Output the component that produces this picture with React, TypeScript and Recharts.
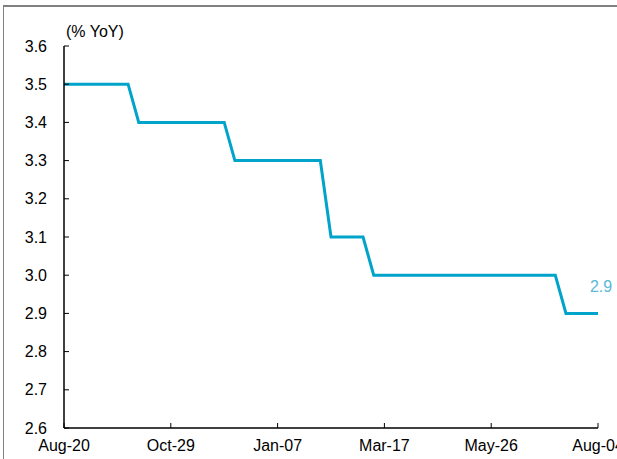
import React from "react";
import { LineChart, Line, XAxis, YAxis } from "recharts";

const dates = [
  "Aug-20", "Aug-27", "Sep-03", "Sep-10", "Sep-17", "Sep-24", "Oct-01", "Oct-08", "Oct-15", "Oct-22",
  "Oct-29", "Nov-05", "Nov-12", "Nov-19", "Nov-26", "Dec-03", "Dec-10", "Dec-17", "Dec-24", "Dec-31",
  "Jan-07", "Jan-14", "Jan-21", "Jan-28", "Feb-04", "Feb-11", "Feb-18", "Feb-25", "Mar-03", "Mar-10",
  "Mar-17", "Mar-24", "Mar-31", "Apr-07", "Apr-14", "Apr-21", "Apr-28", "May-05", "May-12", "May-19",
  "May-26", "Jun-02", "Jun-09", "Jun-16", "Jun-23", "Jun-30", "Jul-07", "Jul-14", "Jul-21", "Jul-28",
  "Aug-04",
];

const values = [
  3.5, 3.5, 3.5, 3.5, 3.5, 3.5, 3.5, 3.4, 3.4, 3.4,
  3.4, 3.4, 3.4, 3.4, 3.4, 3.4, 3.3, 3.3, 3.3, 3.3,
  3.3, 3.3, 3.3, 3.3, 3.3, 3.1, 3.1, 3.1, 3.1, 3.0,
  3.0, 3.0, 3.0, 3.0, 3.0, 3.0, 3.0, 3.0, 3.0, 3.0,
  3.0, 3.0, 3.0, 3.0, 3.0, 3.0, 3.0, 2.9, 2.9, 2.9,
  2.9,
];

const xTicks = ["Aug-20", "Oct-29", "Jan-07", "Mar-17", "May-26", "Aug-04"];
const yTicks = [2.6, 2.7, 2.8, 2.9, 3.0, 3.1, 3.2, 3.3, 3.4, 3.5, 3.6];
const unitLabel = "(% YoY)";

const data = dates.map((d, i) => ({ date: d, value: values[i] }));

const FONT = "'Liberation Sans', Arial, sans-serif";

const EndLabel = (props: any) => {
  const { x, y, index, value } = props;
  if (index !== values.length - 1) return null;
  return (
    <text x={x + 3} y={y - 21} fill="#5cb8d8" fontSize={16} fontFamily={FONT} textAnchor="middle">
      {Number(value).toFixed(1)}
    </text>
  );
};

export default function App() {
  return (
    <div style={{ position: "fixed", left: 0, top: 0, width: 617, height: 459, overflow: "hidden", background: "#fff" }}>
      <div
        style={{
          position: "absolute",
          left: 3,
          top: 5,
          width: 700,
          height: 460,
          borderTop: "2px solid #808080",
          borderLeft: "1px solid #808080",
          boxSizing: "border-box",
        }}
      />
      <div style={{ position: "absolute", left: 0, top: 0 }}>
        <LineChart width={660} height={459} data={data} margin={{ top: 46, right: 62, bottom: 0, left: 0 }}>
          <XAxis
            dataKey="date"
            ticks={xTicks}
            interval={0}
            tickSize={-5}
            tickMargin={17}
            height={31}
            axisLine={{ stroke: "#000", strokeWidth: 1.5 }}
            tickLine={{ stroke: "#000" }}
            tick={{ fill: "#000", fontSize: 16, fontFamily: FONT }}
            padding={{ left: 0, right: 0 }}
          />
          <YAxis
            domain={[2.6, 3.6]}
            ticks={yTicks}
            interval={0}
            width={64}
            tickSize={-5}
            tickMargin={22}
            axisLine={{ stroke: "#000", strokeWidth: 1.5 }}
            tickLine={{ stroke: "#000" }}
            tick={{ fill: "#000", fontSize: 16, fontFamily: FONT }}
            tickFormatter={(v: number) => v.toFixed(1)}
          />
          <Line
            type="linear"
            dataKey="value"
            stroke="#00a3c9"
            strokeWidth={3}
            dot={false}
            isAnimationActive={false}
            label={<EndLabel />}
          />
          <text x={66} y={37} fontSize={16} fontFamily={FONT} fill="#000">
            {unitLabel}
          </text>
        </LineChart>
      </div>
    </div>
  );
}
